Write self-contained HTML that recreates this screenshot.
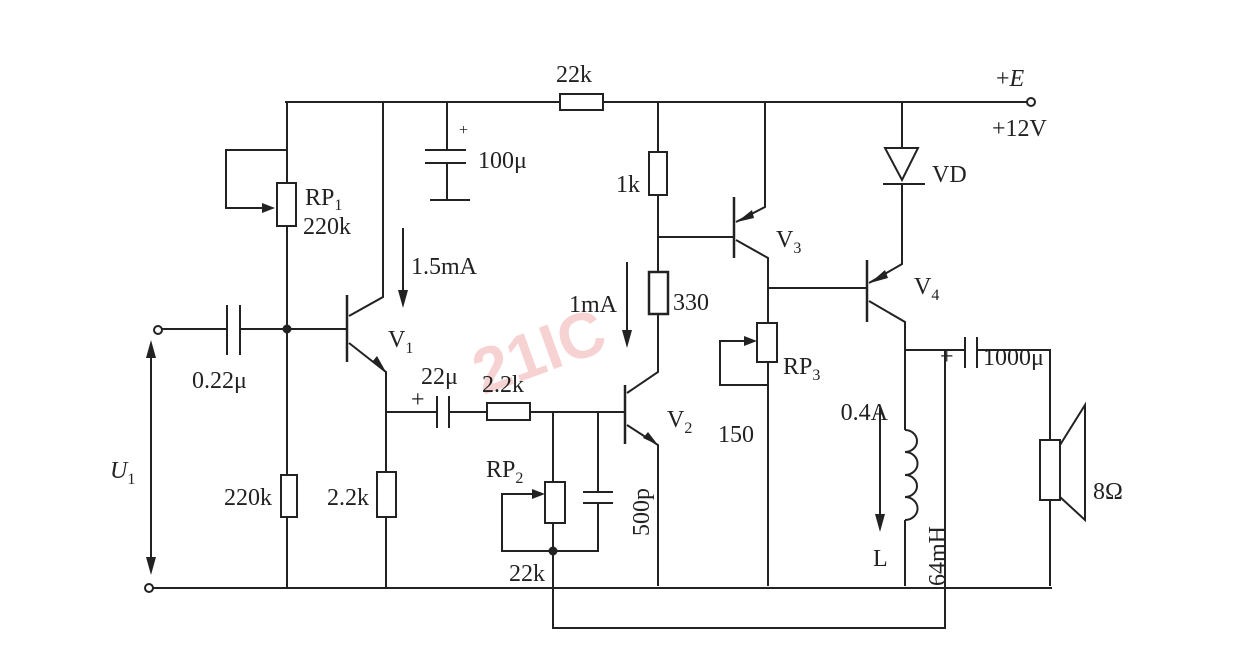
<!DOCTYPE html>
<html><head><meta charset="utf-8"><style>
html,body{margin:0;padding:0;background:#fff;}
svg{display:block;}
text{font-family:"Liberation Serif",serif;font-size:24px;fill:#222;}
.s{font-size:16px;}
.e{text-anchor:end;}
</style></head><body>
<svg width="1245" height="653" viewBox="0 0 1245 653" xmlns="http://www.w3.org/2000/svg">
<g stroke="#222" stroke-width="2" fill="none">
<path d="M285 102H560M603 102H1028"/>
<rect x="560" y="94" width="43" height="16" fill="#fff"/>
<circle cx="1031" cy="102" r="4" fill="#fff"/>
<path d="M153 588H1052"/>
<circle cx="149" cy="588" r="4" fill="#fff"/>
<path d="M553 586V628H945V351"/>
<circle cx="158" cy="330" r="4" fill="#fff"/>
<path d="M162 329H227M240 329H347"/>
<path d="M227 305V355M240 305V355"/>
<circle cx="287" cy="329" r="3.5" fill="#222"/>
<path d="M151 345V570"/>
<path d="M287 102V183M287 226V475M287 517V588"/>
<rect x="277" y="183" width="19" height="43" fill="#fff"/>
<path d="M287 150H226V208H268"/>
<rect x="281" y="475" width="16" height="42" fill="#fff"/>
<path d="M347 295V362" stroke-width="2.5"/>
<path d="M349 316L383 297V102"/>
<path d="M349 343L386 372V472M386 517V588"/>
<rect x="377" y="472" width="19" height="45" fill="#fff"/>
<path d="M447 102V150M425 150H466M425 163H466M447 163V200M430 200H470"/>
<path d="M403 228V300"/>
<path d="M386 412H437M449 412H487M530 412H625"/>
<path d="M437 396V428M449 396V428"/>
<rect x="487" y="403" width="43" height="17" fill="#fff"/>
<path d="M553 412V482M553 523V586"/>
<rect x="545" y="482" width="20" height="41" fill="#fff"/>
<path d="M532 494H502V551H598V503M598 412V492M583 492H613M583 503H613"/>
<circle cx="553" cy="551" r="3.5" fill="#222"/>
<path d="M625 385V444" stroke-width="2.5"/>
<path d="M627 393L658 372V313M658 272V195M658 152V102"/>
<path d="M627 425L658 445V586"/>
<rect x="649" y="152" width="18" height="43" fill="#fff"/>
<rect x="649" y="272" width="19" height="42" fill="#fff" stroke-width="2.5"/>
<path d="M627 262V340"/>
<path d="M658 237H733"/>
<path d="M734 197V258" stroke-width="2.5"/>
<path d="M736 222L765 207V102"/>
<path d="M736 240L768 258V323M768 362V586"/>
<rect x="757" y="323" width="20" height="39" fill="#fff"/>
<path d="M747 341H720V385H768"/>
<path d="M768 288H866"/>
<path d="M867 260V322" stroke-width="2.5"/>
<path d="M869 283L902 264V184"/>
<path d="M902 102V148M885 148H918L902 180ZM883 184H925"/>
<path d="M869 301L905 322V430M905 520V586"/>
<path d="M905 430a12 11 0 0 1 0 22a12 11 0 0 1 0 23a12 11 0 0 1 0 22a12 11 0 0 1 0 23"/>
<path d="M905 350H965M977 350H1050V440M1050 500V586"/>
<path d="M965 337V368M977 337V368"/>
<rect x="1040" y="440" width="20" height="60" fill="#fff"/>
<path d="M1060 445L1085 405V520L1060 497"/>
<path d="M880 408V520"/>
</g>
<g fill="#222">
<path d="M151 340L146 358H156Z"/><path d="M151 575L146 557H156Z"/>
<path d="M403 308L398 290H408Z"/>
<path d="M627 348L622 330H632Z"/>
<path d="M880 532L875 514H885Z"/>
<path d="M386 372L372 362L377 356Z"/>
<path d="M658 445L643 438L648 432Z"/>
<path d="M275 208L262 203V213Z"/>
<path d="M545 494L532 489V499Z"/>
<path d="M757 341L744 336V346Z"/>
<path d="M737 222L752 210L754 218Z"/>
<path d="M870 283L885 270L888 278Z"/>
</g>
<text x="0" y="0" transform="translate(483,395) rotate(-20)" style="font-family:'Liberation Sans',sans-serif;font-size:64px;font-weight:bold;fill:#f3b5b5;opacity:0.6">21IC</text>
<text x="556" y="82">22k</text>
<text x="996" y="86"><tspan>+</tspan><tspan font-style="italic">E</tspan></text>
<text x="992" y="136">+12V</text>
<text x="932" y="182">VD</text>
<text x="640" y="192" class="e">1k</text>
<text x="305" y="205">RP<tspan class="s" dy="5">1</tspan></text>
<text x="303" y="234">220k</text>
<text x="459" y="135" class="s">+</text>
<text x="478" y="168">100μ</text>
<text x="411" y="274">1.5mA</text>
<text x="776" y="247">V<tspan class="s" dy="6">3</tspan></text>
<text x="617" y="312" class="e">1mA</text>
<text x="673" y="310">330</text>
<text x="914" y="294">V<tspan class="s" dy="6">4</tspan></text>
<text x="388" y="347">V<tspan class="s" dy="6">1</tspan></text>
<text x="192" y="388">0.22μ</text>
<text x="421" y="384">22μ</text>
<text x="411" y="407">+</text>
<text x="482" y="392">2.2k</text>
<text x="667" y="427">V<tspan class="s" dy="6">2</tspan></text>
<text x="783" y="374">RP<tspan class="s" dy="6">3</tspan></text>
<text x="718" y="442">150</text>
<text x="940" y="364">+</text>
<text x="983" y="365">1000μ</text>
<text x="888" y="420" class="e">0.4A</text>
<text x="486" y="477">RP<tspan class="s" dy="6">2</tspan></text>
<text x="110" y="478"><tspan font-style="italic">U</tspan><tspan class="s" dy="6">1</tspan></text>
<text x="272" y="505" class="e">220k</text>
<text x="369" y="505" class="e">2.2k</text>
<text x="1093" y="499">8Ω</text>
<text x="873" y="566">L</text>
<text x="545" y="581" class="e">22k</text>
<text transform="translate(649,536) rotate(-90)">500p</text>
<text transform="translate(945,586) rotate(-90)">64mH</text>
</svg>
</body></html>
